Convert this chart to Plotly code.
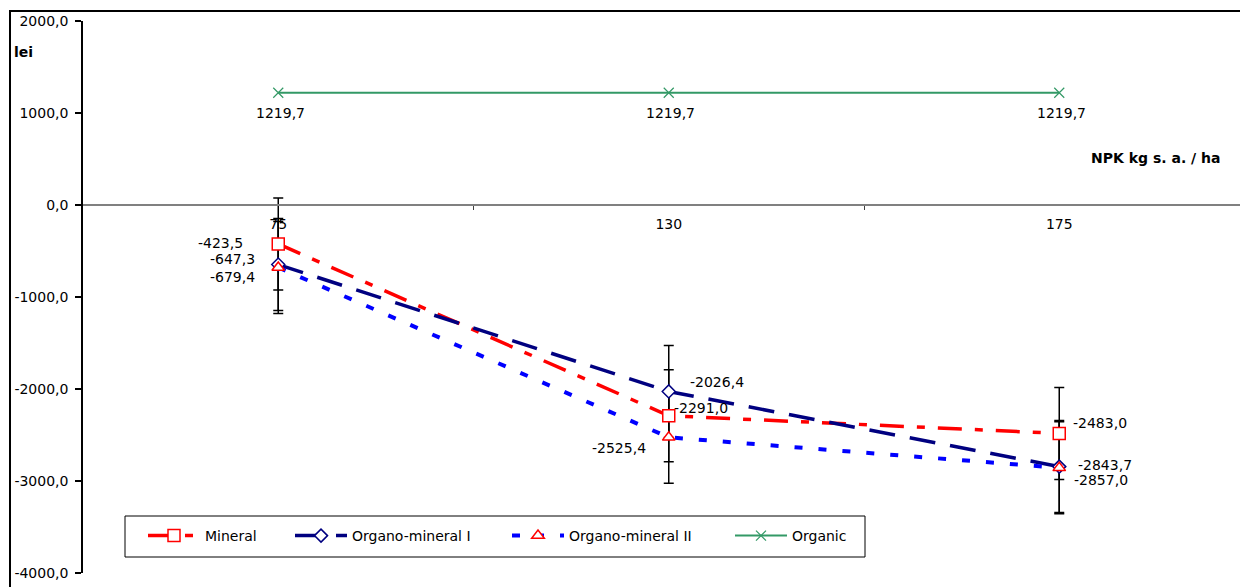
import plotly.graph_objects as go

# ---------------- data ----------------
categories = ["75", "130", "175"]
mineral = [-423.5, -2291.0, -2483.0]
organo_mineral_1 = [-647.3, -2026.4, -2843.7]
organo_mineral_2 = [-679.4, -2525.4, -2857.0]
organic = [1219.7, 1219.7, 1219.7]
error_amount = [500.0, 500.0, 500.0]
y_ticks = [2000, 1000, 0, -1000, -2000, -3000, -4000]
series_names = ["Mineral", "Organo-mineral I", "Organo-mineral II", "Organic"]
y_title = "lei"
x_title = "NPK kg s. a. / ha"

# ---------------- layout geometry ----------------
W, H = 1240, 587
ML, MT = 8, 9           # paper starts where the outer chart frame starts
PAPER_W = W - ML
PAPER_H = H - MT
PLOT_L, PLOT_R, PLOT_T, PLOT_B = 83, 1240, 21, 573
CAT_PX = 390.5
x0 = -0.5
x1 = x0 + (PLOT_R - PLOT_L) / CAT_PX


def px_x(p):
    return (p - ML) / PAPER_W


def px_y(p):
    return (H - p) / PAPER_H


x_domain = [px_x(PLOT_L), px_x(PLOT_R)]
y_domain = [px_y(PLOT_B), px_y(PLOT_T)]
Y_MIN, Y_MAX = -4000, 2000
zero_pos = y_domain[0] + (0 - Y_MIN) / (Y_MAX - Y_MIN) * (y_domain[1] - y_domain[0])

FONT = "DejaVu Sans"
FS = 14


def fmt(v):
    return f"{v:.1f}".replace(".", ",")


xs = list(range(len(categories)))

fig = go.Figure()

# error bars (drawn first so that markers sit on top)
for vals in (mineral, organo_mineral_1, organo_mineral_2):
    fig.add_trace(go.Scatter(
        x=xs, y=vals, mode="markers",
        marker=dict(size=1, color="rgba(0,0,0,0)"),
        error_y=dict(type="data", array=error_amount, visible=True,
                     color="black", thickness=1.5, width=5),
        showlegend=False, hoverinfo="skip"))

styles = [
    dict(color="#FF0000", dash="24px,13px,8px,13px", width=3.5,
         marker=dict(symbol="square", size=12, color="white",
                     line=dict(color="#FF0000", width=1.5))),
    dict(color="#000080", dash="26px,15px", width=3.5,
         marker=dict(symbol="diamond", size=10, color="white",
                     line=dict(color="#000080", width=1.5))),
    dict(color="#0000FF", dash="8px,16px", width=4,
         marker=dict(symbol="triangle-up", size=11, color="white",
                     line=dict(color="#FF0000", width=1.5))),
    dict(color="#339966", dash="solid", width=2,
         marker=dict(symbol="x-thin-open", size=10,
                     line=dict(color="#339966", width=1.2))),
]

legend_ids = ["legend", "legend2", "legend3", "legend4"]
legend_x_px = [143, 290, 507, 730]

all_series = [mineral, organo_mineral_1, organo_mineral_2, organic]
for name, vals, st, lid in zip(series_names, all_series, styles, legend_ids):
    fig.add_trace(go.Scatter(
        x=xs, y=vals, name=name, mode="lines+markers",
        line=dict(color=st["color"], dash=st["dash"], width=st["width"]),
        marker=st["marker"], hoverinfo="skip", legend=lid))

# outer chart frame: top and left edges on an overlay axis spanning the paper
FRAME_W = 2
inset_x = 1.0 / PAPER_W + FRAME_W / 2 / PAPER_W
inset_y = 1.0 / PAPER_H + FRAME_W / 2 / PAPER_H
fig.add_trace(go.Scatter(
    x=[inset_x, inset_x, 1.0], y=[0.0, 1.0 - inset_y, 1.0 - inset_y],
    xaxis="x2", yaxis="y2", mode="lines",
    line=dict(color="black", width=FRAME_W),
    showlegend=False, hoverinfo="skip"))

# data label offsets (xanchor, xshift, yshift) per series / category
label_pos = [
    [("right", -33, 1), ("left", 3, 8), ("left", 12, 10)],
    [("right", -21, 6), ("left", 19, 9), ("left", 17, 2)],
    [("right", -21, -9), ("right", -21, -11), ("left", 13, -12)],
    [("center", 2, -20), ("center", 2, -20), ("center", 2, -20)],
]
annotations = []
for vals, poss in zip(all_series, label_pos):
    for i, (v, (xa, xsh, ysh)) in enumerate(zip(vals, poss)):
        annotations.append(dict(
            x=xs[i], y=v, xref="x", yref="y", text=fmt(v), showarrow=False,
            xanchor=xa, yanchor="middle", xshift=xsh, yshift=ysh,
            font=dict(family=FONT, size=FS, color="black")))

annotations.append(dict(x=px_x(12), y=px_y(52), xref="paper", yref="paper",
                        text=f"<b>{y_title}</b>", showarrow=False,
                        xanchor="left", yanchor="middle",
                        font=dict(family=FONT, size=FS, color="black")))
annotations.append(dict(x=px_x(1222), y=px_y(158), xref="paper", yref="paper",
                        text=f"<b>{x_title}</b>", showarrow=False,
                        xanchor="right", yanchor="middle",
                        font=dict(family=FONT, size=FS, color="black")))

shapes = [
    # legend box
    dict(type="rect", xref="paper", yref="paper",
         x0=px_x(125), x1=px_x(865), y0=px_y(557), y1=px_y(516),
         line=dict(color="black", width=1), fillcolor="white", layer="below"),
    # outer frame (also as paper shapes)
    dict(type="line", xref="paper", yref="paper",
         x0=inset_x, x1=1, y0=1 - inset_y, y1=1 - inset_y,
         line=dict(color="black", width=FRAME_W), layer="above"),
    dict(type="line", xref="paper", yref="paper",
         x0=inset_x, x1=inset_x, y0=0, y1=1 - inset_y,
         line=dict(color="black", width=FRAME_W), layer="above"),
]

legend_common = dict(orientation="h", y=px_y(536), xanchor="left",
                     yanchor="middle", bgcolor="rgba(0,0,0,0)", borderwidth=0,
                     itemwidth=52,
                     font=dict(family=FONT, size=FS, color="black"))
legend_layout = {lid: dict(legend_common, x=px_x(lx))
                 for lid, lx in zip(legend_ids, legend_x_px)}

fig.update_layout(
    width=W, height=H,
    margin=dict(l=ML, r=0, t=MT, b=0, pad=0, autoexpand=False),
    paper_bgcolor="white", plot_bgcolor="rgba(0,0,0,0)",
    font=dict(family=FONT, size=FS, color="black"),
    showlegend=True,
    annotations=annotations,
    shapes=shapes,
    xaxis=dict(domain=x_domain, range=[x0, x1], anchor="free",
               position=zero_pos, automargin=False,
               tickmode="array", tickvals=xs, ticktext=categories,
               ticks="", showline=True, linecolor="#808080", linewidth=2,
               showgrid=False, zeroline=False, ticklabelstandoff=6,
               tickfont=dict(family=FONT, size=FS, color="black"),
               minor=dict(tickmode="array", tickvals=[x0 + 1, x0 + 2],
                          ticks="outside", ticklen=4, tickcolor="#404040",
                          tickwidth=1, showgrid=False)),
    yaxis=dict(domain=y_domain, range=[Y_MIN, Y_MAX], tickmode="array",
               tickvals=y_ticks, automargin=False,
               ticktext=[fmt(v) for v in y_ticks], ticks="outside",
               ticklen=6, tickcolor="black", tickwidth=1.5,
               showline=True, linecolor="black", linewidth=1.5,
               showgrid=False, zeroline=False, ticklabelstandoff=4,
               tickfont=dict(family=FONT, size=FS, color="black")),
    xaxis2=dict(domain=[0, 1], range=[0, 1], anchor="y2", visible=False,
                automargin=False, fixedrange=True),
    yaxis2=dict(domain=[0, 1], range=[0, 1], anchor="x2", visible=False,
                automargin=False, fixedrange=True),
    **legend_layout,
)

fig.write_html("out.html")
